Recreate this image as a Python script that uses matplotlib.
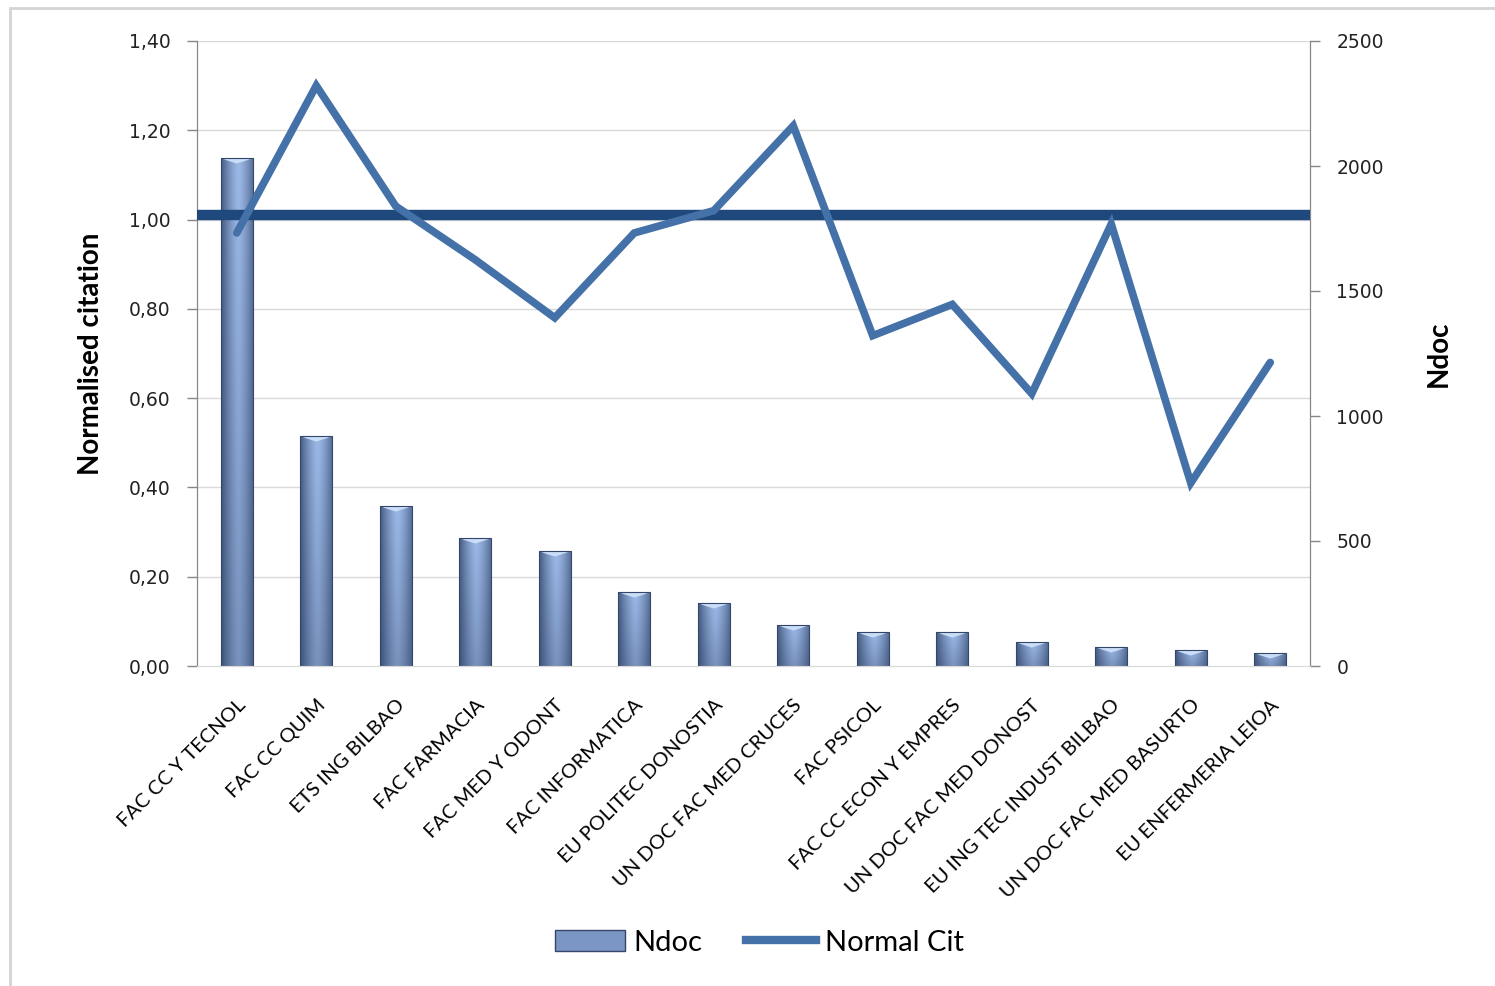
import numpy as np
import matplotlib
matplotlib.use("Agg")
import matplotlib.pyplot as plt
from matplotlib.patches import Rectangle, Patch
from matplotlib.lines import Line2D

# categories (faculties) with number of documents and normalised citation
centres = ["FAC CC Y TECNOL", "FAC CC QUIM", "ETS ING BILBAO", "FAC FARMACIA",
           "FAC MED Y ODONT", "FAC INFORMATICA", "EU POLITEC DONOSTIA",
           "UN DOC FAC MED CRUCES", "FAC PSICOL", "FAC CC ECON Y EMPRES",
           "UN DOC FAC MED DONOST", "EU ING TEC INDUST BILBAO",
           "UN DOC FAC MED BASURTO", "EU ENFERMERIA LEIOA"]
ndoc = [2032, 920, 640, 512, 460, 296, 252, 164, 136, 136, 96, 76, 64, 52]
normal_cit = [0.97, 1.30, 1.03, 0.91, 0.78, 0.97, 1.02, 1.21, 0.74, 0.81,
              0.61, 0.99, 0.41, 0.68]
reference_level = 1.01

left_ticks = [0.0, 0.2, 0.4, 0.6, 0.8, 1.0, 1.2, 1.4]
right_ticks = [0, 500, 1000, 1500, 2000, 2500]

label_font = ["Lato", "Liberation Sans", "DejaVu Sans"]

fig = plt.figure(figsize=(14.95, 9.86), dpi=100)
fig.patches.append(Rectangle((10 / 1495, -0.01), 1.2, 1 - 8 / 986 + 0.01,
                             transform=fig.transFigure, fill=False,
                             edgecolor="#d4d4d4", linewidth=2))

ax = fig.add_axes([197 / 1495, 1 - 666 / 986, (1310 - 197) / 1495, (666 - 41) / 986])
ax2 = ax.twinx()

x = np.arange(len(centres))

# gridlines follow the left (citation) scale, drawn behind the bars
scale = right_ticks[-1] / left_ticks[-1]
for t in left_ticks[1:]:
    ax.axhline(t * scale, color="#d9d9d9", linewidth=1, zorder=0)

# bars with a shaded look
bw = 0.4
prof = np.linspace(-1, 1, 60)
horiz = 1 - 0.6 * np.abs(prof - 0.1) ** 1.4
vert = np.linspace(0.72, 1.0, 100)[:, None]
shade = vert * horiz[None, :]
dark = np.array([0x3a, 0x50, 0x76]) / 255
light = np.array([0x9c, 0xb8, 0xe6]) / 255
img = dark + (light - dark) * ((shade - shade.min()) / (shade.max() - shade.min()))[..., None]
for xi, h in zip(x, ndoc):
    r = Rectangle((xi - bw / 2, 0), bw, h, facecolor="none", edgecolor="#34466a",
                  linewidth=0.8, zorder=3)
    ax.add_patch(r)
    im = ax.imshow(img, extent=(xi - bw / 2, xi + bw / 2, 0, h), origin="lower",
                   aspect="auto", zorder=2, interpolation="bilinear")
    im.set_clip_path(r)
    capt = min(h, 22)
    ax.fill([xi - bw / 2, xi + bw / 2, xi + bw * 0.3, xi, xi - bw * 0.3],
            [h, h, h - capt * 0.45, h - capt, h - capt * 0.45],
            color="#c9ddf7", zorder=2.5, linewidth=0)
ax.set_xlim(-0.5, len(centres) - 0.5)
ax.set_ylim(right_ticks[0], right_ticks[-1])
ax2.set_ylim(left_ticks[0], left_ticks[-1])

# line on the left scale
ax2.axhline(reference_level, color="#1f497d", linewidth=7.5, zorder=3)
ax2.plot(x, normal_cit, color="#4371a8", linewidth=5.5, solid_capstyle="round",
         solid_joinstyle="miter", zorder=4)

# axes layout: bars axis on the right, citation axis on the left
ax.yaxis.tick_right()
ax.yaxis.set_label_position("right")
ax2.yaxis.tick_left()
ax2.yaxis.set_label_position("left")

ax.set_yticks(right_ticks)
ax.set_yticklabels([str(t) for t in right_ticks])
ax2.set_yticks(left_ticks)
ax2.set_yticklabels([f"{t:.2f}".replace(".", ",") for t in left_ticks])

for a in (ax, ax2):
    a.spines["top"].set_visible(False)
    a.spines["left"].set_color("#868686")
    a.spines["right"].set_color("#868686")
    a.spines["bottom"].set_color("#d9d9d9")
    a.tick_params(axis="y", direction="out", length=7, width=1, color="#868686",
                  labelsize=13.5, labelcolor="#222222", pad=12)
ax.tick_params(axis="y", pad=12)

ax.set_xticks(x)
ax.set_xticklabels(centres, rotation=45, ha="right", rotation_mode="anchor",
                   fontsize=14.5, family=label_font)
ax.tick_params(axis="x", length=0, pad=22)

ax2.set_ylabel("Normalised citation", fontsize=20, fontweight="bold",
               family=label_font, labelpad=18)
ax.set_ylabel("Ndoc", fontsize=20, fontweight="bold", family=label_font,
              labelpad=30)

handles = [Patch(facecolor="#7b96c4", edgecolor="#34466a", linewidth=1),
           Line2D([0], [0], color="#4371a8", linewidth=6)]
fig.legend(handles, ["Ndoc", "Normal Cit"], loc="center",
           bbox_to_anchor=(0.508, 0.044), ncol=2, frameon=False,
           prop={"family": label_font, "size": 21}, handlelength=2.4,
           handletextpad=0.3, columnspacing=1.5)

fig.savefig("out.png", dpi=100)
